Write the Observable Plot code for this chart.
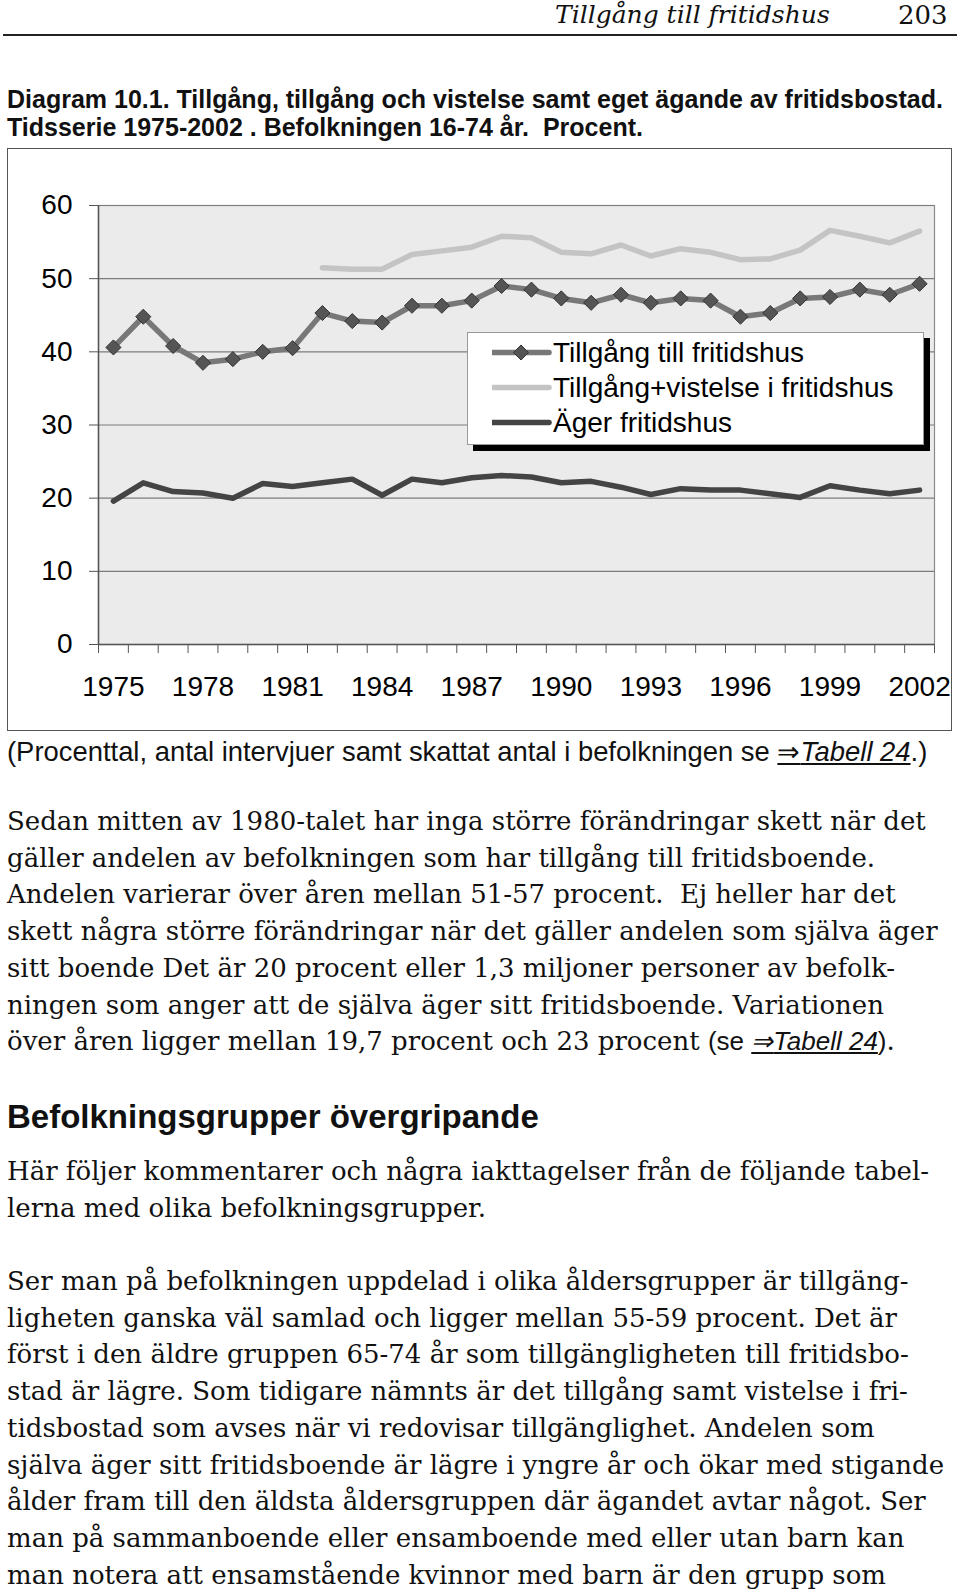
<!DOCTYPE html>
<html>
<head>
<meta charset="utf-8">
<script src="https://cdn.jsdelivr.net/npm/d3@7"></script>
<script src="https://cdn.jsdelivr.net/npm/@observablehq/plot@0.6"></script>
<style>
  html, body { margin: 0; padding: 0; background: #fff; }
  body { width: 960px; height: 1596px; position: relative; overflow: hidden; color: #111; }
  .abs { position: absolute; white-space: nowrap; }
  .hdr { font-family: "DejaVu Serif", serif; font-style: italic; font-size: 25px; line-height: 30px; }
  .sans { font-family: "Liberation Sans", Arial, sans-serif; }
  .title { font-weight: bold; font-size: 25px; line-height: 28px; left: 7px; }
  .cap { font-size: 27.4px; line-height: 30px; left: 7px; }
  .serif { font-family: "DejaVu Serif", serif; font-size: 26px; line-height: 36.7px; left: 7px; }
  .heading { font-weight: bold; font-size: 33px; line-height: 36px; left: 7px; }
  .ref { font-family: "Liberation Sans", Arial, sans-serif; }
  .ref u { font-style: italic; }
  #frame { position: absolute; left: 7px; top: 148px; width: 945px; height: 583px; box-sizing: border-box; border: 1.5px solid #555; }
  #chart { position: absolute; left: 0; top: 148px; }
  #legend { position: absolute; left: 467px; top: 332px; width: 457px; height: 113px; box-sizing: border-box;
            border: 1px solid #999; background: #fff; box-shadow: 6px 6px 0 #000; }
  #legend .row { position: absolute; left: 0; height: 35px; width: 100%; }
  #legend svg { position: absolute; left: 24px; top: 0; }
  #legend span { position: absolute; left: 85px; top: 0; font-family: "Liberation Sans", Arial, sans-serif; font-size: 28px; line-height: 35px; white-space: nowrap; color: #000; }
</style>
</head>
<body>
<div class="abs hdr" style="left:555px; top:0px;">Tillgång till fritidshus</div>
<div class="abs hdr" style="left:898px; top:0px; font-style:normal; font-size:26px;">203</div>
<div class="abs" style="left:3px; top:34px; width:954px; height:2px; background:#222;"></div>

<div class="abs sans title" style="top:85px;">Diagram 10.1. Tillgång, tillgång och vistelse samt eget ägande av fritidsbostad.</div>
<div class="abs sans title" style="top:113px;">Tidsserie 1975-2002 . Befolkningen 16-74 år.&nbsp; Procent.</div>

<div id="frame"></div>
<div id="chart"></div>
<div id="legend"></div>

<div class="abs sans cap" style="top:737px;">(Procenttal, antal intervjuer samt skattat antal i befolkningen se <u>⇒<i>Tabell 24</i></u>.)</div>

<div class="abs serif" id="p1" style="top:803px;"></div>
<div class="abs sans heading" style="top:1099px;">Befolkningsgrupper övergripande</div>
<div class="abs serif" id="p2" style="top:1153px;"></div>
<div class="abs serif" id="p3" style="top:1263px;"></div>

<script>
// ---------- data ----------
const years = [1975,1976,1977,1978,1979,1980,1981,1982,1983,1984,1985,1986,1987,1988,
               1989,1990,1991,1992,1993,1994,1995,1996,1997,1998,1999,2000,2001,2002];
const tillgang = [40.6,44.8,40.8,38.5,39.0,40.0,40.5,45.3,44.2,44.0,46.3,46.3,47.0,49.0,
                  48.5,47.3,46.7,47.8,46.7,47.3,47.0,44.8,45.3,47.3,47.5,48.5,47.8,49.3];
const vistelse = [null,null,null,null,null,null,null,51.5,51.3,51.3,53.3,53.8,54.3,55.8,
                  55.6,53.6,53.4,54.6,53.1,54.1,53.6,52.6,52.7,53.9,56.6,55.8,54.9,56.5];
const ager = [19.6,22.1,20.9,20.7,20.0,22.0,21.6,22.1,22.6,20.4,22.6,22.1,22.8,23.1,
              22.9,22.1,22.3,21.5,20.5,21.3,21.1,21.1,20.6,20.1,21.7,21.1,20.6,21.1];
const xTickLabels = [1975,1978,1981,1984,1987,1990,1993,1996,1999,2002];
const yTicks = [0,10,20,30,40,50,60];
const seriesNames = ["Tillgång till fritidshus","Tillgång+vistelse i fritidshus","Äger fritidshus"];

// ---------- derived ----------
const rows = years.map((year, i) => ({year, tillgang: tillgang[i], vistelse: vistelse[i], ager: ager[i]}));
const xDomain = [years[0] - 0.5, years[years.length - 1] + 0.5];
const boundaries = years.map(y => y - 0.5).concat([xDomain[1]]);

const colTill = "#787878", colVist = "#c4c4c4", colAger = "#444444";

const chart = Plot.plot({
  width: 960,
  height: 583,
  marginLeft: 98,
  marginRight: 26,
  marginTop: 57,
  marginBottom: 87,
  style: {fontFamily: "'Liberation Sans', Arial, sans-serif", fontSize: "28px", background: "transparent", color: "#000"},
  x: {type: "linear", domain: xDomain, label: null},
  y: {domain: [0, 60], label: null},
  marks: [
    Plot.frame({fill: "#ebebeb", stroke: "#8a8a8a", strokeWidth: 1.2}),
    Plot.ruleY(yTicks.filter(d => d > 0), {stroke: "#7c7c7c", strokeWidth: 1.2}),
    Plot.ruleX([xDomain[0]], {stroke: "#555", strokeWidth: 1.5}),
    Plot.ruleY([0], {stroke: "#555", strokeWidth: 1.5}),
    Plot.axisY({ticks: yTicks, tickSize: 9, tickPadding: 17, stroke: "#555", fill: "#000", fontSize: 28, label: null, tickFormat: d => String(d)}),
    Plot.axisX({ticks: boundaries, tickSize: 9, tickFormat: () => "", stroke: "#555", label: null}),
    Plot.axisX({ticks: xTickLabels, tickSize: 0, tickPadding: 32, fill: "#000", fontSize: 28, label: null, tickFormat: d => String(d)}),
    Plot.line(rows, {x: "year", y: "ager", stroke: colAger, strokeWidth: 5.5, strokeLinejoin: "round"}),
    Plot.line(rows, {x: "year", y: "vistelse", stroke: colVist, strokeWidth: 5.5, strokeLinejoin: "round"}),
    Plot.line(rows, {x: "year", y: "tillgang", stroke: colTill, strokeWidth: 5.5, strokeLinejoin: "round"}),
    Plot.dot(rows, {x: "year", y: "tillgang", symbol: "diamond2", r: 6.8, fill: "#555", stroke: "#333", strokeWidth: 1})
  ]
});
document.getElementById("chart").appendChild(chart);

// ---------- legend ----------
const legend = document.getElementById("legend");
const swatches = [
  {color: colTill, marker: true},
  {color: colVist, marker: false},
  {color: colAger, marker: false}
];
seriesNames.forEach((name, i) => {
  const row = document.createElement("div");
  row.className = "row";
  row.style.top = (2 + i * 35) + "px";
  const sw = swatches[i];
  row.innerHTML =
    `<svg width="60" height="35" viewBox="0 0 60 35">
       <line x1="1" x2="57" y1="17.5" y2="17.5" stroke="${sw.color}" stroke-width="5.5" stroke-linecap="round"/>
       ${sw.marker ? '<path d="M29,10 L36.5,17.5 L29,25 L21.5,17.5 Z" fill="#555" stroke="#333" stroke-width="1"/>' : ''}
     </svg><span>${name}</span>`;
  legend.appendChild(row);
});

// ---------- body text ----------
const p1 = [
  "Sedan mitten av 1980-talet har inga större förändringar skett när det",
  "gäller andelen av befolkningen som har tillgång till fritidsboende.",
  "Andelen varierar över åren mellan 51-57 procent.&nbsp; Ej heller har det",
  "skett några större förändringar när det gäller andelen som själva äger",
  "sitt boende Det är 20 procent eller 1,3 miljoner personer av befolk-",
  "ningen som anger att de själva äger sitt fritidsboende. Variationen",
  "över åren ligger mellan 19,7 procent och 23 procent <span class=\"ref\">(se <u>⇒<i>Tabell 24</i></u>)</span>."
];
const p2 = [
  "Här följer kommentarer och några iakttagelser från de följande tabel-",
  "lerna med olika befolkningsgrupper."
];
const p3 = [
  "Ser man på befolkningen uppdelad i olika åldersgrupper är tillgäng-",
  "ligheten ganska väl samlad och ligger mellan 55-59 procent. Det är",
  "först i den äldre gruppen 65-74 år som tillgängligheten till fritidsbo-",
  "stad är lägre. Som tidigare nämnts är det tillgång samt vistelse i fri-",
  "tidsbostad som avses när vi redovisar tillgänglighet. Andelen som",
  "själva äger sitt fritidsboende är lägre i yngre år och ökar med stigande",
  "ålder fram till den äldsta åldersgruppen där ägandet avtar något. Ser",
  "man på sammanboende eller ensamboende med eller utan barn kan",
  "man notera att ensamstående kvinnor med barn är den grupp som"
];
const fill = (id, lines) => {
  document.getElementById(id).innerHTML = lines.map(l => `<div>${l}</div>`).join("");
};
fill("p1", p1); fill("p2", p2); fill("p3", p3);
</script>
</body>
</html>
